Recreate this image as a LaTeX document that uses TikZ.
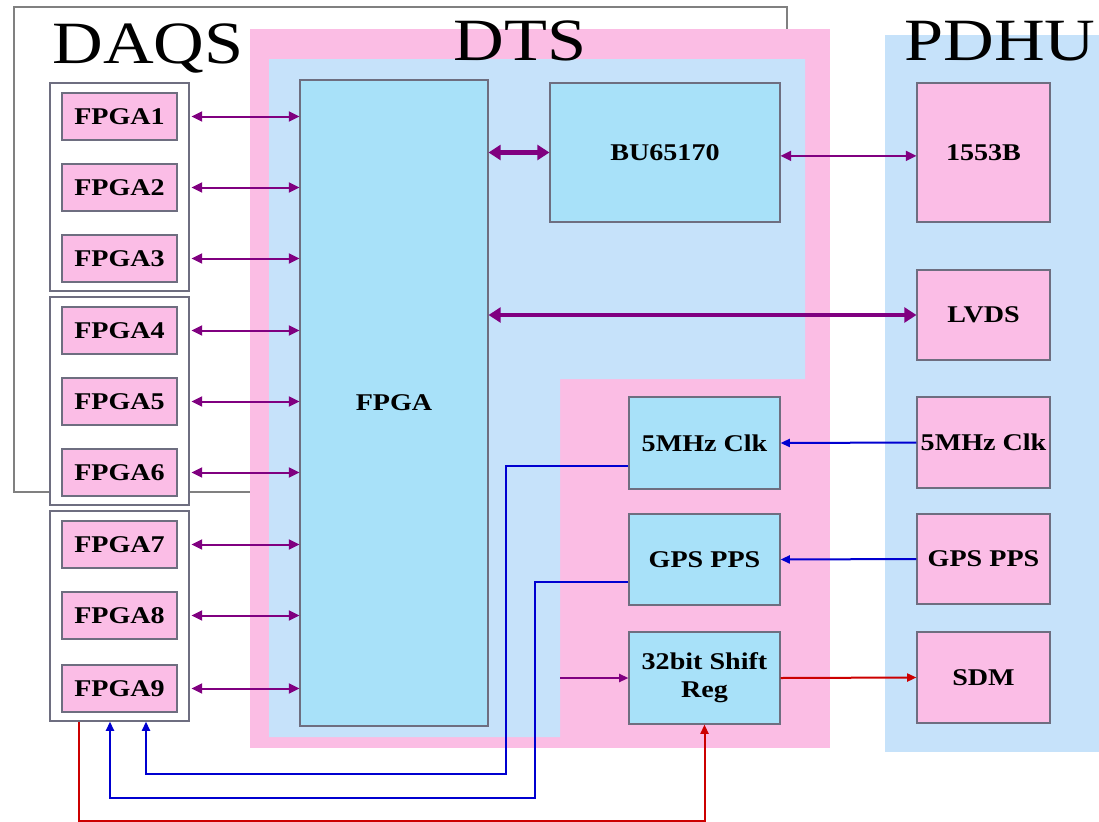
\documentclass[tikz,border=0pt]{standalone}
\usepackage{fontspec}
\setmainfont{Liberation Serif}[FakeStretch=1.17]
\usetikzlibrary{arrows.meta}
\definecolor{pinkf}{HTML}{FBBDE6}
\definecolor{dtspink}{HTML}{FBBDE4}
\definecolor{lblue}{HTML}{C6E2FA}
\definecolor{sky}{HTML}{A8E1F9}
\definecolor{purp}{HTML}{800080}
\definecolor{bl}{HTML}{0000D0}
\definecolor{rd}{HTML}{CC0000}
\definecolor{edgec}{HTML}{6E6E80}
\definecolor{grayline}{HTML}{808080}
\tikzset{
  sz/.style 2 args={minimum width=#1*0.75pt, minimum height=#2*0.75pt},
  pbox/.style={draw=edgec, line width=0.8pt, fill=pinkf, inner sep=0pt, font=\bfseries\fontsize{18}{21}\selectfont, align=center},
  sbox/.style={draw=edgec, line width=0.8pt, fill=sky, inner sep=0pt, font=\bfseries\fontsize{18}{21}\selectfont, align=center},
  grp/.style={draw=edgec, line width=0.8pt, fill=white, inner sep=0pt},
  title/.style={font=\fontsize{45}{45}\selectfont, anchor=base, inner sep=0pt},
  parr/.style={draw=purp, line width=1.5pt, {Triangle[length=8pt,width=7.5pt]}-{Triangle[length=8pt,width=7.5pt]}},
  thickarr/.style={draw=purp, line width=3.5pt, {Triangle[length=9pt,width=11pt]}-{Triangle[length=9pt,width=11pt]}},
  barr/.style={draw=bl, line width=1.5pt, -{Triangle[length=7pt,width=6pt]}},
  rarr/.style={draw=rd, line width=1.5pt, -{Triangle[length=7pt,width=6pt]}},
  oparr/.style={draw=purp, line width=1.5pt, -{Triangle[length=7pt,width=6pt]}},
}
\begin{document}
\begin{tikzpicture}[x=0.75pt,y=-0.75pt]
\useasboundingbox (0,0) rectangle (1099,821);
% DAQS outer frame
\draw[grayline, line width=1.3pt] (14,7) rectangle (787,492);
% DTS region
\fill[dtspink] (250,29) rectangle (830,748);
\fill[lblue] (269,59) -- (805,59) -- (805,379) -- (560,379) -- (560,737) -- (269,737) -- cycle;
% PDHU region
\fill[lblue] (885,35) rectangle (1099,752);
% titles
\node[title] (tdaqs) at (148,63) {DAQS};
\node[title] (tdts) at (520,60) {DTS};
\node[title] (tpdhu) at (1000,60) {PDHU};
% DAQS groups
\node[grp, sz={139}{208}] (g1) at (119.5,187) {};
\node[grp, sz={139}{208}] (g2) at (119.5,401) {};
\node[grp, sz={139}{210}] (g3) at (119.5,616) {};
% FPGA boxes
\foreach \i/\y in {1/116.5,2/187.5,3/258.5,4/330.5,5/401.5,6/472.5,7/544.5,8/615.5,9/688.5}{
  \node[pbox, sz={115}{47}] (f\i) at (119.5,\y) {FPGA\i};
}
% DTS boxes
\node[sbox, sz={188}{646}] (fpga) at (394,403) {FPGA};
\node[sbox, sz={230}{139}] (bu) at (665,152.5) {BU65170};
\node[sbox, sz={151}{92}] (dc) at (704.5,443) {5MHz Clk};
\node[sbox, sz={151}{91}] (dg) at (704.5,559.5) {GPS PPS};
\node[sbox, sz={151}{92}] (sr) at (704.5,678) {32bit Shift\\Reg};
% PDHU boxes
\node[pbox, sz={133}{139}] (b1553) at (983.5,152.5) {1553B};
\node[pbox, sz={133}{90}] (lv) at (983.5,315) {LVDS};
\node[pbox, sz={133}{91}] (pc) at (983.5,442.5) {5MHz Clk};
\node[pbox, sz={133}{90}] (pg) at (983.5,559) {GPS PPS};
\node[pbox, sz={133}{91}] (sdm) at (983.5,677.5) {SDM};
% FPGA links
\foreach \i/\g in {1/g1,2/g1,3/g1,4/g2,5/g2,6/g2,7/g3,8/g3,9/g3}{
  \draw[parr] ([xshift=1.5pt]\g.east |- f\i) -- (fpga.west |- f\i);
}
\draw[thickarr] (fpga.east |- bu) -- (bu.west);
\draw[parr] ([yshift=-2.5pt]bu.east) -- ([yshift=-2.5pt]b1553.west);
\draw[thickarr] (fpga.east |- lv) -- (lv.west);
% clock / pps
\draw[barr] (pc.west) -- (dc.east);
\draw[barr] (pg.west) -- (dg.east);
\draw[rarr] (sr.east) -- (sdm.west);
\coordinate (srin) at (560,678);
\draw[oparr] (srin) -- (sr.west);
\draw[barr] ([yshift=-17.25pt]dc.west) -| (506,774) -| ([xshift=19.875pt]g3.south);
\draw[barr] ([yshift=-16.9pt]dg.west) -| (535,798) -| ([xshift=-7.125pt]g3.south);
\draw[rarr] ([xshift=-30.375pt]g3.south) -- ++(0,99) -| (sr.south);
\end{tikzpicture}
\end{document}
